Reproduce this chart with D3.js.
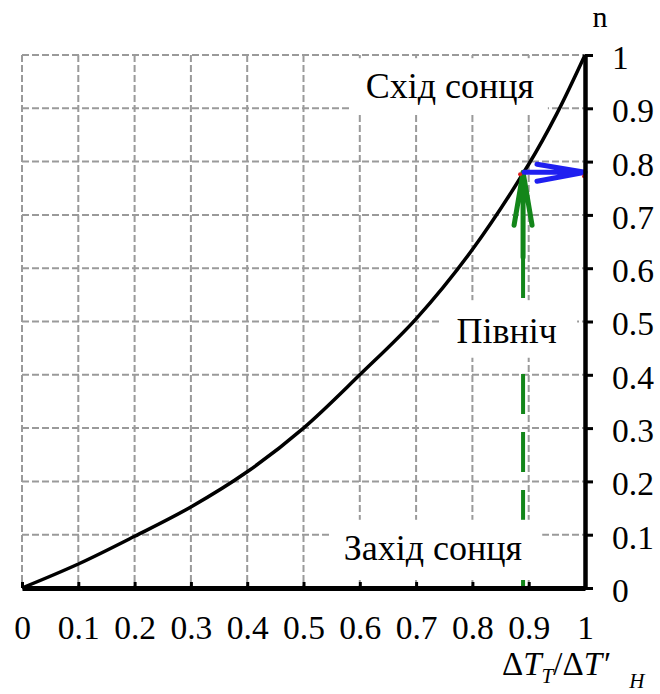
<!DOCTYPE html>
<html>
<head>
<meta charset="utf-8">
<script src="https://d3js.org/d3.v7.min.js"></script>
<style>
	body { margin: 0; background: #fff; }
	svg { display: block; }
</style>
</head>
<body>
<svg id="chart" width="660" height="694"></svg>
<script>
// curve n(ΔT_T / ΔT'_H)
var ratio = [0, 0.1, 0.2, 0.3, 0.4, 0.5, 0.6, 0.7, 0.8, 0.9, 0.95, 1];
var nValues = [0, 0.045, 0.097, 0.152, 0.218, 0.3, 0.4, 0.505, 0.635, 0.795, 0.89, 1];

// ticks
var xTicks = [0, 0.1, 0.2, 0.3, 0.4, 0.5, 0.6, 0.7, 0.8, 0.9, 1];
var yTicks = [0, 0.1, 0.2, 0.3, 0.4, 0.5, 0.6, 0.7, 0.8, 0.9, 1];

// the point marked by the green / blue arrows
var markRatio = [0.89];
var markN = [0.78];

var serif = "'Liberation Serif', 'DejaVu Serif', serif";

var svg = d3.select('svg#chart');

var x = d3.scaleLinear().domain([0, 1]).range([22, 585]);
var y = d3.scaleLinear().domain([0, 1]).range([588, 55]);

var fmt = function (d) { return d === 0 || d === 1 ? String(d) : d.toFixed(1); };

// grey dashed grid
var grid = svg.append('g')
	.style('stroke', '#9a9a9a')
	.style('stroke-width', 2)
	.style('stroke-dasharray', '7,3');

grid.selectAll('line.v')
	.data(xTicks.slice(0, -1))
	.enter()
	.append('line')
	.attr('class', 'v')
	.attr('x1', function (d) { return x(d); })
	.attr('x2', function (d) { return x(d); })
	.attr('y1', y(1))
	.attr('y2', y(0));

grid.selectAll('line.h')
	.data(yTicks.slice(1))
	.enter()
	.append('line')
	.attr('class', 'h')
	.attr('x1', x(0))
	.attr('x2', x(1))
	.attr('y1', function (d) { return y(d); })
	.attr('y2', function (d) { return y(d); });

// green dashed line up from the x axis
var green = '#13861a';
svg.append('line')
	.attr('x1', x(markRatio[0]))
	.attr('x2', x(markRatio[0]))
	.attr('y1', y(0))
	.attr('y2', y(markN[0]) + 85)
	.style('stroke', green)
	.style('stroke-width', 4)
	.style('stroke-dasharray', '40,18');

// white boxes behind the labels (they hide the grid)
function box(x0, x1, y0, y1) {
	svg.append('rect')
		.attr('x', x(x0))
		.attr('y', y(y1))
		.attr('width', x(x1) - x(x0))
		.attr('height', y(y0) - y(y1))
		.style('fill', '#fff');
}
box(0.583, 0.934, 0.891, 0.994);
box(0.746, 0.986, 0.432, 0.54);
box(0.55, 0.924, 0.015, 0.128);

function label(px, py, s) {
	svg.append('text')
		.attr('x', x(px)).attr('y', y(py))
		.attr('text-anchor', 'middle')
		.attr('font-family', serif)
		.attr('font-size', 36)
		.text(s);
}
label(0.76, 0.92, 'Схід сонця');
label(0.861, 0.46, 'Північ');
label(0.73, 0.053, 'Захід сонця');

// the curve
var line = d3.line()
	.x(function (d, i) { return x(ratio[i]); })
	.y(function (d, i) { return y(nValues[i]); })
	.curve(d3.curveCatmullRom);

svg.append('path')
	.datum(nValues)
	.attr('d', line)
	.style('fill', 'none')
	.style('stroke', '#000')
	.style('stroke-width', 3.5);

// green arrow (solid part + head)
var mx = x(markRatio[0]), my = y(markN[0]);
svg.append('path')
	.attr('d', 'M' + mx + ',' + (my + 85) + 'V' + my +
		'M' + (mx - 9) + ',' + (my + 53) + 'L' + mx + ',' + my + 'L' + (mx + 9) + ',' + (my + 53))
	.style('fill', 'none')
	.style('stroke', green)
	.style('stroke-width', 5)
	.style('stroke-linejoin', 'round')
	.style('stroke-linecap', 'round');

// blue arrow to the n axis
var ax = x(1);
svg.append('path')
	.attr('d', 'M' + (mx + 1) + ',' + my + 'H' + ax +
		'M' + (ax - 48) + ',' + (my - 8) + 'L' + ax + ',' + my + 'L' + (ax - 48) + ',' + (my + 9))
	.style('fill', 'none')
	.style('stroke', '#1f1ff0')
	.style('stroke-width', 5)
	.style('stroke-linejoin', 'round')
	.style('stroke-linecap', 'round');

// little red marks at the arrow ends
svg.selectAll('circle.red')
	.data([[mx - 3, my + 2], [ax - 1, my + 4]])
	.enter()
	.append('circle')
	.attr('cx', function (d) { return d[0]; })
	.attr('cy', function (d) { return d[1]; })
	.attr('r', 2)
	.style('fill', '#e02020');

// axes
var xAxis = d3.axisBottom(x)
	.tickValues(xTicks)
	.tickFormat(fmt)
	.tickSizeInner(-6)
	.tickSizeOuter(0)
	.tickPadding(27);

var yAxis = d3.axisRight(y)
	.tickValues(yTicks)
	.tickFormat(fmt)
	.tickSizeInner(8)
	.tickSizeOuter(0)
	.tickPadding(19);

var gx = svg.append('g')
	.attr('transform', 'translate(0,' + y(0) + ')')
	.call(xAxis)
	.attr('font-family', serif)
	.attr('font-size', 33.5);

var gy = svg.append('g')
	.attr('transform', 'translate(' + x(1) + ',0)')
	.call(yAxis)
	.attr('font-family', serif)
	.attr('font-size', 33.5);

gx.select('.domain').style('stroke', '#000').style('stroke-width', 5);
gy.select('.domain').style('stroke', '#000').style('stroke-width', 4.5);
gx.selectAll('.tick line').style('stroke', '#000').style('stroke-width', 3);
gy.selectAll('.tick line').style('stroke', '#000').style('stroke-width', 3);
gx.selectAll('.tick text').attr('fill', '#000');
gy.selectAll('.tick text').attr('dy', '0.4em').attr('fill', '#000');

// axis titles
svg.append('text')
	.attr('x', 600).attr('y', 27)
	.attr('text-anchor', 'middle')
	.attr('font-family', serif)
	.attr('font-size', 30)
	.text('n');

var xt = svg.append('text')
	.attr('x', 502).attr('y', 675)
	.attr('font-family', serif)
	.attr('font-size', 33);
xt.append('tspan').text('Δ');
xt.append('tspan').attr('font-style', 'italic').text('T');
xt.append('tspan').attr('font-style', 'italic').attr('font-size', 21).attr('dy', 8).text('T');
xt.append('tspan').attr('dy', -8).text('/Δ');
xt.append('tspan').attr('font-style', 'italic').text('T′');
xt.append('tspan').attr('font-style', 'italic').attr('font-size', 21).attr('dx', 20).attr('dy', 13).text('H');
</script>
</body>
</html>
